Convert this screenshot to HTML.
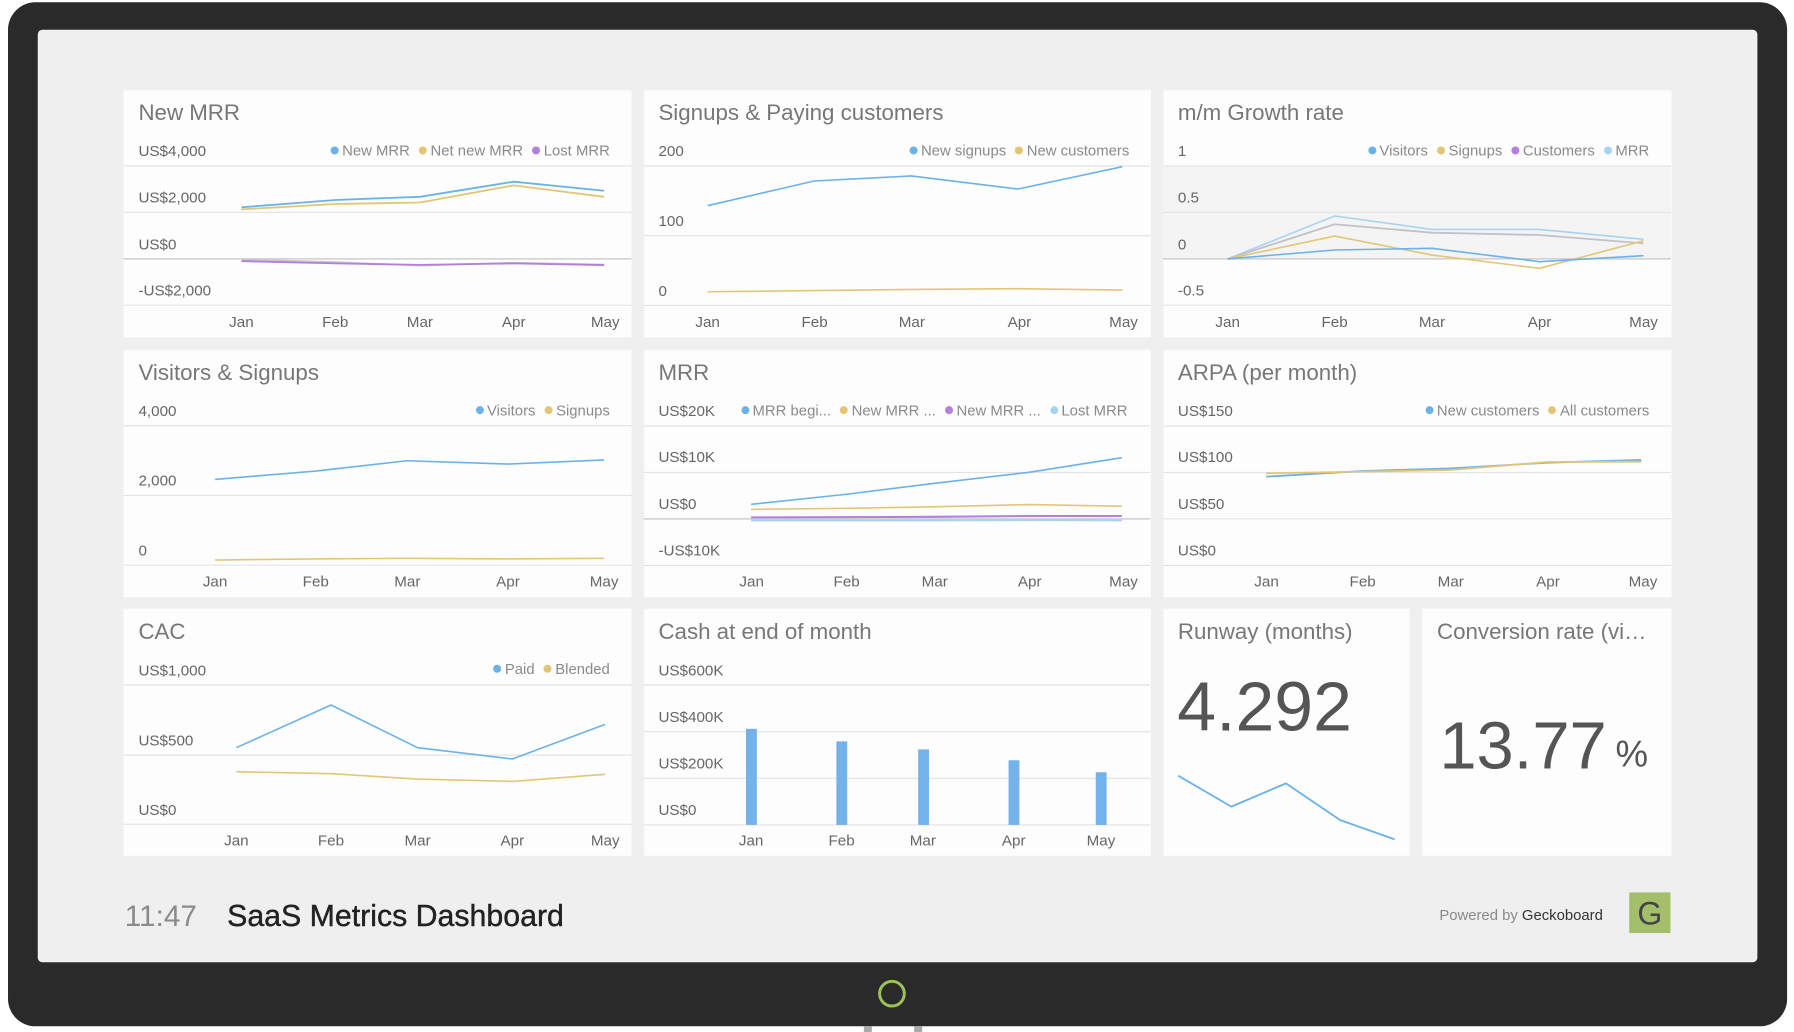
<!DOCTYPE html>
<html><head><meta charset="utf-8">
<style>
html,body{margin:0;padding:0;background:#fff;width:1794px;height:1032px;overflow:hidden;}
#s{position:absolute;left:0;top:0;width:1568px;height:902px;transform:scale(1.14413);transform-origin:0 0;font-family:"Liberation Sans",sans-serif;}
.frame{position:absolute;left:7px;top:2px;width:1555px;height:895px;background:#2a2a2a;border-radius:24px;}
.screen{position:absolute;left:33px;top:26px;width:1503px;height:814.5px;background:#efefef;border-radius:4px;}
.p{position:absolute;background:#fdfdfd;}
.leg{position:absolute;height:16px;display:flex;align-items:center;font-size:13px;color:#8a8a8a;white-space:nowrap;}
.leg span{display:flex;align-items:center;margin-left:8px;}
.leg i{display:inline-block;width:7px;height:7px;border-radius:50%;margin-right:3px;}
.b{background:#6cb2ea}.y{background:#e2c676}.pu{background:#b27fdc}.lb{background:#a7d3f2}
svg{position:absolute;left:0;top:0;}
</style></head><body>
<div id="s">
<div class="frame"></div>
<div class="screen"></div>
<div style="position:absolute;left:755px;top:897px;width:7px;height:5px;background:#aaa"></div>
<div style="position:absolute;left:799px;top:897px;width:7px;height:5px;background:#aaa"></div>

<div class="p" style="left:108px;top:79px;width:444px;height:216px"></div>
<div class="p" style="left:562.5px;top:79px;width:443px;height:216px"></div>
<div class="p" style="left:1016.5px;top:79px;width:444px;height:216px"></div>
<div class="p" style="left:108px;top:306px;width:444px;height:216px"></div>
<div class="p" style="left:562.5px;top:306px;width:443px;height:216px"></div>
<div class="p" style="left:1016.5px;top:306px;width:444px;height:216px"></div>
<div class="p" style="left:108px;top:532px;width:444px;height:216px"></div>
<div class="p" style="left:562.5px;top:532px;width:443px;height:216px"></div>
<div class="p" style="left:1016.5px;top:532px;width:215.5px;height:216px"></div>
<div class="p" style="left:1243px;top:532px;width:217.5px;height:216px"></div>

<svg width="1568" height="902" viewBox="0 0 1568 902" font-family="Liberation Sans, sans-serif">
<rect x="1016.5" y="145" width="444" height="81.3" fill="#f4f4f4"/>
<g stroke="#e3e3e3" stroke-width="1">
<line x1="108" x2="552" y1="145" y2="145"/><line x1="108" x2="552" y1="185.6" y2="185.6"/><line x1="108" x2="552" y1="266.7" y2="266.7"/>
<line x1="562.5" x2="1005.5" y1="145" y2="145"/><line x1="562.5" x2="1005.5" y1="206" y2="206"/><line x1="562.5" x2="1005.5" y1="267" y2="267"/>
<line x1="1016.5" x2="1460.5" y1="145" y2="145"/><line x1="1016.5" x2="1460.5" y1="185.6" y2="185.6"/><line x1="1016.5" x2="1460.5" y1="266.7" y2="266.7"/>
<line x1="108" x2="552" y1="372" y2="372"/><line x1="108" x2="552" y1="433" y2="433"/><line x1="108" x2="552" y1="494" y2="494"/>
<line x1="562.5" x2="1005.5" y1="372.4" y2="372.4"/><line x1="562.5" x2="1005.5" y1="412.9" y2="412.9"/><line x1="562.5" x2="1005.5" y1="494.2" y2="494.2"/>
<line x1="1016.5" x2="1460.5" y1="372.4" y2="372.4"/><line x1="1016.5" x2="1460.5" y1="412.9" y2="412.9"/><line x1="1016.5" x2="1460.5" y1="453.5" y2="453.5"/><line x1="1016.5" x2="1460.5" y1="494.2" y2="494.2"/>
<line x1="108" x2="552" y1="598.7" y2="598.7"/><line x1="108" x2="552" y1="660" y2="660"/><line x1="108" x2="552" y1="720.5" y2="720.5"/>
<line x1="562.5" x2="1005.5" y1="598.7" y2="598.7"/><line x1="562.5" x2="1005.5" y1="639.5" y2="639.5"/><line x1="562.5" x2="1005.5" y1="680.3" y2="680.3"/><line x1="562.5" x2="1005.5" y1="721" y2="721"/>
</g>
<g stroke="#cfcfcf" stroke-width="1.3">
<line x1="108" x2="552" y1="226.3" y2="226.3"/>
<line x1="1016.5" x2="1460.5" y1="226.3" y2="226.3"/>
<line x1="562.5" x2="1005.5" y1="453.5" y2="453.5"/>
</g>

<g font-size="19.5" fill="#777">
<text x="121" y="105">New MRR</text>
<text x="575.5" y="105">Signups &amp; Paying customers</text>
<text x="1029.5" y="105">m/m Growth rate</text>
<text x="121" y="332">Visitors &amp; Signups</text>
<text x="575.5" y="332">MRR</text>
<text x="1029.5" y="332">ARPA (per month)</text>
<text x="121" y="558.5">CAC</text>
<text x="575.5" y="558.5">Cash at end of month</text>
<text x="1029.5" y="558.5">Runway (months)</text>
<text x="1256" y="558.5">Conversion rate (vi…</text>
</g>

<g font-size="13.3" fill="#666">
<text x="121" y="136.5">US$4,000</text><text x="121" y="177">US$2,000</text><text x="121" y="218">US$0</text><text x="121" y="258.3">-US$2,000</text>
<text x="575.5" y="136.5">200</text><text x="575.5" y="197.5">100</text><text x="575.5" y="258.5">0</text>
<text x="1029.5" y="136.5">1</text><text x="1029.5" y="177">0.5</text><text x="1029.5" y="218">0</text><text x="1029.5" y="258.3">-0.5</text>
<text x="121" y="363.5">4,000</text><text x="121" y="424.5">2,000</text><text x="121" y="485.5">0</text>
<text x="575.5" y="363.5">US$20K</text><text x="575.5" y="404">US$10K</text><text x="575.5" y="445">US$0</text><text x="575.5" y="485.7">-US$10K</text>
<text x="1029.5" y="363.5">US$150</text><text x="1029.5" y="404">US$100</text><text x="1029.5" y="445">US$50</text><text x="1029.5" y="485.7">US$0</text>
<text x="121" y="590.2">US$1,000</text><text x="121" y="651.5">US$500</text><text x="121" y="712.5">US$0</text>
<text x="575.5" y="590.2">US$600K</text><text x="575.5" y="631">US$400K</text><text x="575.5" y="671.8">US$200K</text><text x="575.5" y="712.5">US$0</text>
</g>

<g font-size="13.3" fill="#666" text-anchor="middle">
<text x="211" y="285.8">Jan</text><text x="293" y="285.8">Feb</text><text x="367" y="285.8">Mar</text><text x="449" y="285.8">Apr</text><text x="529" y="285.8">May</text>
<text x="618.5" y="285.8">Jan</text><text x="712" y="285.8">Feb</text><text x="797" y="285.8">Mar</text><text x="891" y="285.8">Apr</text><text x="982" y="285.8">May</text>
<text x="1073" y="285.8">Jan</text><text x="1166.5" y="285.8">Feb</text><text x="1251.6" y="285.8">Mar</text><text x="1345.6" y="285.8">Apr</text><text x="1436.5" y="285.8">May</text>
<text x="188" y="512.8">Jan</text><text x="276" y="512.8">Feb</text><text x="356" y="512.8">Mar</text><text x="444" y="512.8">Apr</text><text x="528" y="512.8">May</text>
<text x="657" y="512.8">Jan</text><text x="740" y="512.8">Feb</text><text x="817" y="512.8">Mar</text><text x="900" y="512.8">Apr</text><text x="982" y="512.8">May</text>
<text x="1107" y="512.8">Jan</text><text x="1191" y="512.8">Feb</text><text x="1268" y="512.8">Mar</text><text x="1353" y="512.8">Apr</text><text x="1436" y="512.8">May</text>
<text x="206.6" y="738.8">Jan</text><text x="289.3" y="738.8">Feb</text><text x="365" y="738.8">Mar</text><text x="447.8" y="738.8">Apr</text><text x="529" y="738.8">May</text>
<text x="656.5" y="738.8">Jan</text><text x="735.6" y="738.8">Feb</text><text x="806.6" y="738.8">Mar</text><text x="886" y="738.8">Apr</text><text x="962.3" y="738.8">May</text>
</g>

<g fill="none" stroke-width="1.4" stroke-linejoin="round">
<polyline stroke="#c9c6cc" points="211,226.8 293,229 367,232.2 449,229.6 528,231.2"/>
<polyline stroke="#b27fdc" stroke-width="1.6" points="211,228.2 293,230.2 367,231.5 449,230.2 528,231.7"/>
<polyline stroke="#e2c676" stroke-width="1.6" points="211,183 293,178.3 367,177 449,162 528,172"/>
<polyline stroke="#6cb2ea" stroke-width="1.6" points="211,181.2 293,174.8 367,172 449,158.8 528,166.7"/>
<polyline stroke="#6cb2ea" points="618.5,179.8 711.5,158.2 796.5,153.8 889.8,165.2 981,145.7"/>
<polyline stroke="#e2c676" points="618.5,255 711.5,254 796.5,253 889.8,252.3 981,253.5"/>
<polyline stroke="#a7d3f2" points="1073,226.3 1166.5,188.8 1251.6,200.5 1345.6,200.5 1436.5,209.2"/>
<polyline stroke="#c4c0c8" stroke-width="1.6" points="1073,226.3 1166.5,196 1251.6,203.4 1345.6,205.4 1436.5,212.7"/>
<polyline stroke="#e2c676" points="1073,226.3 1166.5,206.3 1251.6,222.9 1345.6,234.5 1436.5,210.4"/>
<polyline stroke="#6cb2ea" points="1073,226.3 1166.5,218.5 1251.6,217 1345.6,228.7 1436.5,223.5"/>
<polyline stroke="#6cb2ea" points="188,419 276,411.7 355.7,402.7 444,405.6 528,402"/>
<polyline stroke="#e2c676" points="188,489.5 276,488.5 355.7,488 444,488.5 528,488"/>
<polyline stroke="#a7d3f2" stroke-width="1.8" points="656.5,454.8 740,454.8 816,454.8 899.4,454.5 980.5,454.8"/>
<polyline stroke="#b27fdc" stroke-width="1.8" points="656.5,452.2 740,452 816,451.7 899.4,451 980.5,451"/>
<polyline stroke="#e2c676" points="656.5,445.2 740,444.3 816,443 899.4,441 980.5,442.4"/>
<polyline stroke="#6cb2ea" points="656.5,440.8 740,432 816,422.5 899.4,412.8 980.5,400"/>
<polyline stroke="#6cb2ea" stroke-width="1.6" points="1106.6,416.6 1190.7,411.7 1267.8,409.4 1352.4,404.4 1434.5,402"/>
<polyline stroke="#e2c676" stroke-width="1.6" points="1106.6,413.7 1190.7,412.2 1267.8,410.8 1352.4,403.8 1434.5,403.5"/>
<polyline stroke="#6cb2ea" points="206.6,653.5 289.3,616.2 365,653.5 447.8,663.4 528.9,633.1"/>
<polyline stroke="#e2c676" points="206.6,674.5 289.3,676.2 365,680.9 447.8,683 528.9,676.8"/>
<polyline stroke="#6cb2ea" stroke-width="1.6" points="1029.8,678 1076.2,705 1124,684.7 1171.2,716.7 1219,733.6"/>
</g>

<g fill="#74b3ea">
<rect x="652" y="637" width="9.5" height="84"/>
<rect x="731" y="648" width="9.5" height="73"/>
<rect x="802.5" y="655" width="9.5" height="66"/>
<rect x="881.5" y="664.5" width="9.5" height="56.5"/>
<rect x="957.7" y="675" width="9.5" height="46"/>
</g>

<text x="1029" y="638.6" font-size="61" fill="#555">4.292</text>
<text x="1258" y="671.5" font-size="58.5" fill="#555">13.77</text>
<text x="1412" y="670" font-size="32" fill="#555">%</text>

<text x="109" y="809.4" font-size="26" fill="#8a8a8a">11:47</text>
<text x="198.5" y="809.4" font-size="26.5" fill="#222" stroke="#222" stroke-width="0.35">SaaS Metrics Dashboard</text>
<text x="1258" y="804" font-size="13" fill="#8a8a8a">Powered by <tspan fill="#333">Geckoboard</tspan></text>
<rect x="1424" y="780" width="36" height="35.5" fill="#a4bf6b"/>
<text x="1442" y="808" font-size="28" fill="#444" text-anchor="middle">G</text>

<circle cx="779.6" cy="868.5" r="10.8" fill="none" stroke="#9cc356" stroke-width="2.6"/>
</svg>

<div class="leg" style="right:1035px;top:123.7px"><span><i class="b"></i>New MRR</span><span><i class="y"></i>Net new MRR</span><span><i class="pu"></i>Lost MRR</span></div>
<div class="leg" style="right:581px;top:123.7px"><span><i class="b"></i>New signups</span><span><i class="y"></i>New customers</span></div>
<div class="leg" style="right:126.5px;top:123.7px"><span><i class="b"></i>Visitors</span><span><i class="y"></i>Signups</span><span><i class="pu"></i>Customers</span><span><i class="lb"></i>MRR</span></div>
<div class="leg" style="right:1035px;top:350.7px"><span><i class="b"></i>Visitors</span><span><i class="y"></i>Signups</span></div>
<div class="leg" style="right:582.5px;top:350.7px"><span><i class="b"></i>MRR begi...</span><span><i class="y"></i>New MRR ...</span><span><i class="pu"></i>New MRR ...</span><span><i class="lb"></i>Lost MRR</span></div>
<div class="leg" style="right:126.5px;top:350.7px"><span><i class="b"></i>New customers</span><span><i class="y"></i>All customers</span></div>
<div class="leg" style="right:1035px;top:576.7px"><span><i class="b"></i>Paid</span><span><i class="y"></i>Blended</span></div>
</div>
</body></html>
